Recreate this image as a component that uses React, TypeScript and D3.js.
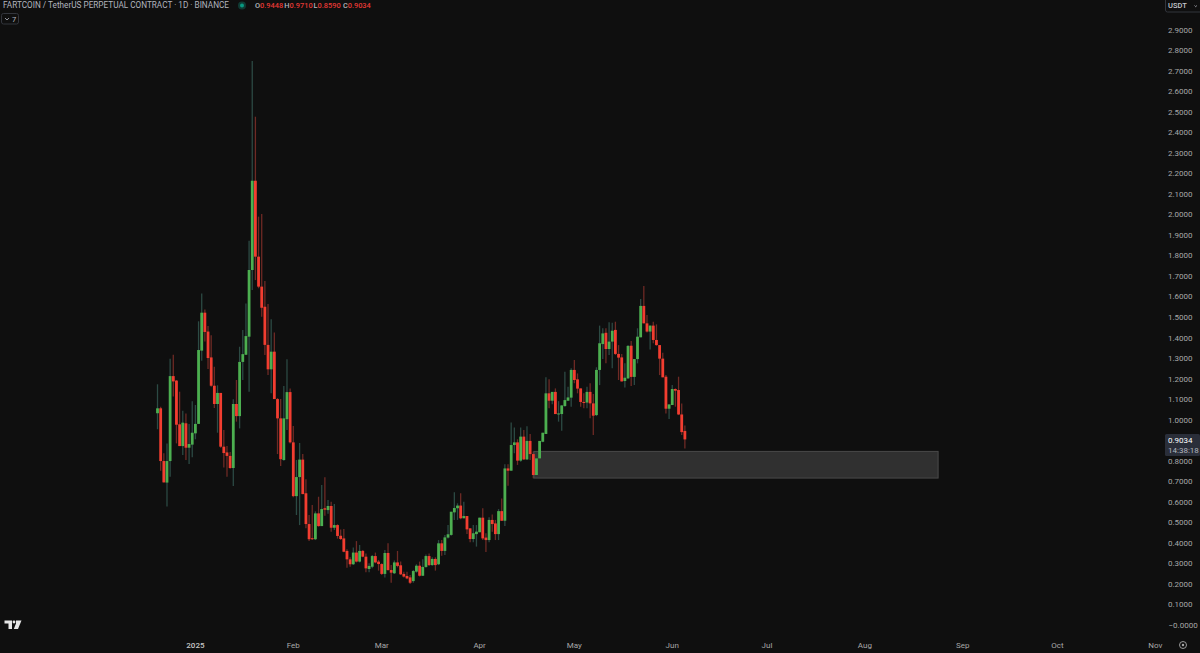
import React from "react";
import * as d3 from "d3";

const opens = [1.031,1.055,.798,.693,.798,1.212,1.190,.977,.871,.982,.863,.878,.933,.979,1.336,1.521,1.429,1.303,1.165,1.076,1.130,.868,.840,.823,.764,1.076,1.017,1.281,1.316,1.404,1.729,2.164,1.794,1.648,1.550,1.364,1.245,1.331,1.100,1.006,.803,1.002,1.134,.889,.627,.720,.805,.641,.491,.422,.417,.543,.481,.568,.559,.579,.473,.486,.434,.421,.360,.319,.295,.352,.308,.360,.332,.272,.283,.335,.308,.296,.248,.350,.267,.251,.304,.290,.248,.238,.231,.213,.259,.288,.239,.282,.335,.291,.321,.295,.397,.360,.425,.438,.548,.568,.581,.519,.530,.470,.418,.442,.451,.522,.425,.413,.511,.494,.442,.554,.507,.762,.751,.876,.889,.800,.917,.806,.896,.832,.730,.811,.892,.930,1.128,1.092,1.135,1.027,1.027,1.066,1.092,1.107,1.242,1.196,1.152,1.086,1.083,1.135,1.079,1.022,1.242,1.368,1.423,1.344,1.380,1.437,1.320,1.303,1.188,1.201,1.360,1.208,1.295,1.401,1.554,1.469,1.429,1.458,1.388,1.363,1.297,1.209,1.053,1.071,1.149,1.144,1.025,.9448];
const highs = [1.172,1.063,.836,.884,1.297,1.316,1.193,1.136,1.043,1.030,.979,1.089,1.071,1.479,1.615,1.537,1.456,1.411,1.258,1.167,1.130,.949,.871,.842,1.099,1.193,1.355,1.437,1.566,1.872,2.748,2.476,1.989,2.002,1.675,1.563,1.489,1.425,1.105,1.100,1.164,1.294,1.152,.969,.803,.886,.832,.709,.535,.584,.553,.624,.681,.719,.608,.600,.589,.490,.465,.467,.368,.329,.377,.408,.389,.365,.348,.300,.340,.352,.316,.300,.364,.397,.291,.313,.360,.308,.259,.259,.243,.267,.295,.308,.319,.343,.348,.329,.329,.413,.413,.438,.486,.551,.646,.592,.641,.600,.530,.470,.486,.486,.522,.568,.446,.524,.538,.511,.564,.616,.782,.782,.986,.962,.904,.962,.949,.968,.930,.844,.827,.896,.936,1.206,1.196,1.135,1.152,1.090,1.070,1.233,1.160,1.250,1.290,1.225,1.152,1.128,1.160,1.177,1.125,1.255,1.458,1.445,1.445,1.474,1.472,1.477,1.363,1.320,1.274,1.364,1.383,1.295,1.445,1.588,1.651,1.510,1.458,1.477,1.464,1.363,1.326,1.217,1.074,1.168,1.152,1.209,1.079,.971];
const lows = [.953,.751,.694,.576,.722,1.112,.884,.871,.827,.803,.784,.816,.904,.979,1.287,1.380,1.246,1.160,1.056,.936,.863,.766,.722,.761,.676,.990,.957,1.193,1.315,1.136,1.632,1.680,1.640,1.501,1.315,1.217,1.128,1.100,.832,.774,.800,.949,.884,.621,.535,.486,.636,.470,.408,.413,.413,.478,.481,.531,.541,.454,.462,.420,.413,.353,.278,.283,.291,.304,.304,.329,.256,.256,.275,.300,.264,.243,.231,.264,.205,.248,.280,.243,.231,.222,.199,.205,.254,.235,.238,.278,.287,.288,.264,.291,.337,.340,.421,.434,.511,.511,.514,.519,.442,.402,.402,.381,.451,.413,.355,.402,.454,.413,.413,.507,.482,.677,.751,.836,.779,.795,.803,.803,.803,.714,.727,.808,.889,.930,1.055,1.075,1.027,.990,.946,1.063,1.092,1.063,1.177,1.128,1.063,1.055,1.055,1.006,.925,1.017,1.168,1.295,1.274,1.315,1.250,1.315,1.193,1.186,1.156,1.198,1.164,1.168,1.274,1.401,1.469,1.425,1.342,1.372,1.360,1.217,1.206,1.030,1.003,1.071,1.063,1.022,.925,.859];
const closes = [1.055,.798,.694,.798,1.212,1.186,.975,.871,.985,.863,.881,.936,.979,1.339,1.521,1.427,1.300,1.165,1.076,1.130,.868,.837,.823,.764,1.076,1.017,1.281,1.319,1.407,1.729,2.164,1.794,1.648,1.545,1.364,1.245,1.331,1.100,1.006,.807,1.006,1.134,.889,.627,.720,.805,.637,.491,.417,.417,.543,.481,.564,.561,.579,.473,.486,.433,.418,.356,.319,.295,.352,.308,.360,.332,.275,.287,.335,.304,.296,.248,.350,.267,.254,.304,.287,.246,.235,.226,.205,.262,.288,.239,.282,.335,.291,.321,.291,.397,.360,.426,.441,.551,.569,.581,.519,.530,.465,.418,.446,.454,.522,.421,.413,.511,.491,.442,.554,.507,.762,.751,.876,.889,.800,.917,.806,.896,.832,.730,.811,.896,.936,1.128,1.092,1.135,1.027,1.030,1.069,1.095,1.108,1.242,1.193,1.151,1.086,1.081,1.135,1.079,1.019,1.242,1.372,1.420,1.344,1.380,1.433,1.320,1.302,1.186,1.204,1.359,1.208,1.295,1.404,1.554,1.469,1.429,1.458,1.388,1.363,1.297,1.206,1.053,1.074,1.149,1.141,1.025,.939,.9034];

const priceTicks = d3.range(1, 30).map((d) => d / 10);
const monthTicks = [
  { label: "2025", date: "2025-01-01", bold: true },
  { label: "Feb", date: "2025-02-01" },
  { label: "Mar", date: "2025-03-01" },
  { label: "Apr", date: "2025-04-01" },
  { label: "May", date: "2025-05-01" },
  { label: "Jun", date: "2025-06-01" },
  { label: "Jul", date: "2025-07-01" },
  { label: "Aug", date: "2025-08-01" },
  { label: "Sep", date: "2025-09-01" },
  { label: "Oct", date: "2025-10-01" },
  { label: "Nov", date: "2025-11-01" },
];
const firstDay = "2024-12-20";
const zone = { from: "2025-04-18", to: "2025-08-24", top: 0.845, bottom: 0.715 };
const ohlc = [
  { k: "O", v: "0.9448" },
  { k: "H", v: "0.9710" },
  { k: "L", v: "0.8590" },
  { k: "C", v: "0.9034" },
];

const BG = "#0f0f0f";
const UP = "#4caf50";
const DOWN = "#f23d30";
const FONT = "Roboto, sans-serif";
const AXIS = "#a8a8a8";

export default function App() {
  const utc = (s: string) => new Date(s + "T00:00:00Z");
  const x = d3.scaleUtc().domain([utc("2025-01-01"), utc("2025-11-01")]).range([195.4, 1155.4]);
  const y = d3.scaleLinear().domain([0, 2.9]).range([624.8, 29.7]);
  const day0 = utc(firstDay);
  const candles = opens.map((o, i) => ({
    o, h: highs[i], l: lows[i], c: closes[i], cx: x(d3.utcDay.offset(day0, i)),
  }));
  return (
    <svg width={1200} height={653} style={{ position: "absolute", left: 0, top: 0, display: "block", background: BG }}>
      <rect width={1200} height={653} fill={BG} />
      <g>
        {candles.map((d, i) => {
          const up = d.c >= d.o;
          return (
            <line key={i} x1={d.cx} x2={d.cx} y1={y(d.h)} y2={y(d.l)}
              stroke={up ? "#2c4a44" : "#6e2a25"} strokeWidth={1.3} />
          );
        })}
      </g>
      <rect x={x(utc(zone.from)) + 0.6} width={x(utc(zone.to)) - x(utc(zone.from))}
        y={y(zone.top)} height={y(zone.bottom) - y(zone.top)}
        fill="#303030" stroke="#4a4a4a" strokeWidth={1} />
      <g>
        {candles.map((d, i) => {
          const up = d.c >= d.o;
          const t = y(Math.max(d.o, d.c));
          const b = y(Math.min(d.o, d.c));
          return (
            <rect key={i} x={d.cx - 1.4} width={2.8} y={t} height={Math.max(b - t, 1)} fill={up ? UP : DOWN} />
          );
        })}
      </g>

      <text x={3} y={8} fontFamily={FONT} fontSize={8.6} fill="#b2b5be" textLength={226} lengthAdjust="spacingAndGlyphs">
        FARTCOIN / TetherUS PERPETUAL CONTRACT · 1D · BINANCE
      </text>
      <circle cx={242} cy={5.5} r={4} fill="#0f3b34" />
      <circle cx={242} cy={5.5} r={2} fill="#089981" />
      <g fontFamily={FONT} fontSize={7.4} fontWeight={500}>
        {ohlc.map((d, i) => (
          <text key={d.k} x={255 + i * 29.3} y={8} fill="#b2b5be">
            {d.k}<tspan fill="#e53935">{d.v}</tspan>
          </text>
        ))}
      </g>
      <rect x={1.5} y={13.5} width={17} height={10.5} rx={2} fill={BG} stroke="#33363d" />
      <path d="M5 18 l2 2 l2 -2" fill="none" stroke="#b2b5be" strokeWidth={0.8} />
      <text x={12} y={21.5} fontFamily={FONT} fontSize={7.5} fill="#b2b5be">7</text>

      <rect x={1165.5} y={-2} width={40} height={14} rx={2} fill={BG} stroke="#33363d" />
      <text x={1168} y={8} fontFamily={FONT} fontSize={7.5} fontWeight={500} fill="#c4c6cc">USDT</text>
      <path d="M1194.5 5.5 l1.2 1.2 l1.2 -1.2" fill="none" stroke="#b2b5be" strokeWidth={0.8} />

      <g fontFamily={FONT} fontSize={8} fill={AXIS}>
        {priceTicks.map((p) => (
          <text key={p} x={1168} y={y(p) + 3}>{d3.format(".4f")(p)}</text>
        ))}
        <text x={1168.5} y={y(0) + 3} textAnchor="start">−0.0000</text>
      </g>
      <rect x={1165} y={434} width={35} height={22} rx={1.5} fill="#2a2e39" />
      <text x={1168} y={443} fontFamily={FONT} fontSize={8} fill="#ffffff">0.9034</text>
      <text x={1168} y={452.5} fontFamily={FONT} fontSize={8} fill="#b2b5be">14:38:18</text>

      <g fontFamily={FONT} fontSize={8} fill={AXIS} textAnchor="middle">
        {monthTicks.map((m) => (
          <text key={m.label} x={x(utc(m.date))} y={648} fontWeight={m.bold ? 500 : 400}
            fill={m.bold ? "#c8c8c8" : AXIS}>{m.label}</text>
        ))}
      </g>
      <circle cx={1183} cy={645} r={3.5} fill="none" stroke="#a8a8a8" strokeWidth={0.9} />
      <circle cx={1183} cy={645} r={1.2} fill="#a8a8a8" />

      <path d="M4.5 620.5 h7.5 v8.5 h-3.5 v-5.5 h-4 z M16 620.5 h5.5 l-3.5 8.5 h-4.2 l2.2 -5.5 z" fill="#e6e6e6" />
      <circle cx={14} cy={622} r={1.4} fill="#e6e6e6" />
    </svg>
  );
}
